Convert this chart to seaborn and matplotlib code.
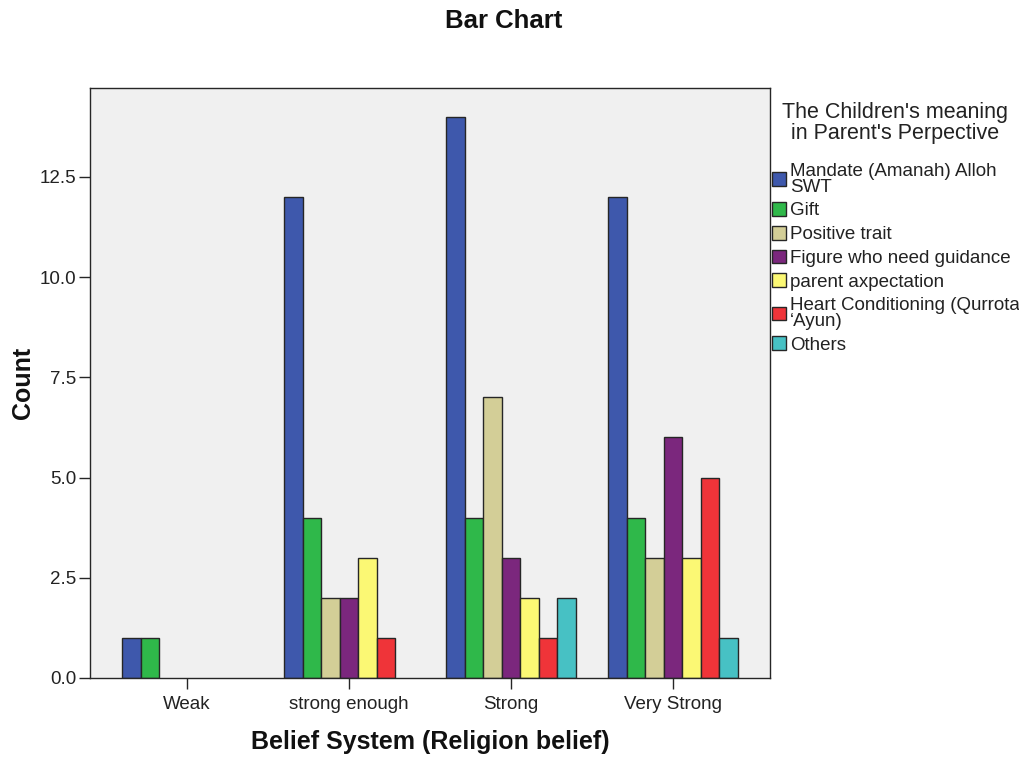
import matplotlib
matplotlib.use("Agg")
import matplotlib.pyplot as plt
import matplotlib.ticker as mticker
import pandas as pd
import seaborn as sns

# Belief system groups on the x axis
belief = ["Weak", "strong enough", "Strong", "Very Strong"]

# Meaning of children categories (hue) and their legend labels
meaning = ["Mandate (Amanah) Alloh SWT", "Gift", "Positive trait",
           "Figure who need guidance", "parent axpectation",
           "Heart Conditioning (Qurrota 'Ayun)", "Others"]
legend_labels = ["Mandate (Amanah) Alloh\nSWT", "Gift", "Positive trait",
                 "Figure who need guidance", "parent axpectation",
                 "Heart Conditioning (Qurrota\n\u2018Ayun)", "Others"]
legend_title = "The Children's meaning\nin Parent's Perpective"

# Counts per meaning category, one value per belief group
mandate = [1, 12, 14, 12]
gift = [1, 4, 4, 4]
positive = [0, 2, 7, 3]
figure = [0, 2, 3, 6]
expectation = [0, 3, 2, 3]
heart = [0, 1, 1, 5]
others = [0, 0, 2, 1]

colors = ["#3e58ac", "#2fb84a", "#d3ce97", "#7b277d", "#fbf874",
          "#ef3439", "#47c1c4"]

series = [mandate, gift, positive, figure, expectation, heart, others]
rows = []
for name, vals in zip(meaning, series):
    for b, v in zip(belief, vals):
        if v > 0:
            rows.append({"belief": b, "meaning": name, "count": v})
df = pd.DataFrame(rows)

sns.set_style("white")
plt.rcParams["font.family"] = ["Liberation Sans", "DejaVu Sans"]

fig = plt.figure(figsize=(10.19, 7.57), dpi=100)
ax = fig.add_axes([0.0883, 0.1044, 0.6673, 0.7794])
ax.set_facecolor("#f0f0f0")

sns.barplot(data=df, x="belief", y="count", hue="meaning",
            order=belief, hue_order=meaning, palette=colors,
            width=0.8, edgecolor="#262626", linewidth=1.0,
            saturation=1, ax=ax, legend=True)

ax.set_xlim(-0.6, 3.6)
ax.set_ylim(0, 14.72)
ax.yaxis.set_major_locator(mticker.MultipleLocator(2.5))
ax.yaxis.set_major_formatter(mticker.FormatStrFormatter("%.1f"))

for s in ax.spines.values():
    s.set_color("#262626")
    s.set_linewidth(1.0)

ax.tick_params(axis="both", direction="out", length=8, width=1,
               color="#262626", labelsize=13.5, labelcolor="#222222",
               left=True, bottom=True, pad=2)
ax.tick_params(axis="x", pad=5)

ax.set_xlabel("Belief System (Religion belief)", fontsize=18,
              fontweight="bold", labelpad=12, color="#111111")
ax.set_ylabel("Count", fontsize=18, fontweight="bold", labelpad=3,
              color="#111111")

fig.suptitle("Bar Chart", fontsize=18.5, fontweight="bold", y=0.988,
             x=0.494, color="#111111")

# Legend heading drawn as its own text block above the entries
fig.text(0.878, 0.8375, legend_title, ha="center", va="center",
         fontsize=15.5, linespacing=1.05, color="#222222",
         multialignment="center")

handles, _ = ax.get_legend_handles_labels()
ax.legend(handles, legend_labels,
          loc="upper left", bbox_to_anchor=(1.0, 0.876),
          frameon=False, fontsize=13.5,
          handlelength=0.75, handleheight=0.75, handletextpad=0.2,
          labelspacing=0.34, borderaxespad=0.1, borderpad=0.0)
leg = ax.get_legend()
for t in leg.get_texts():
    t.set_color("#222222")
    t.set_linespacing(0.9)

fig.savefig("out.png", dpi=100)
